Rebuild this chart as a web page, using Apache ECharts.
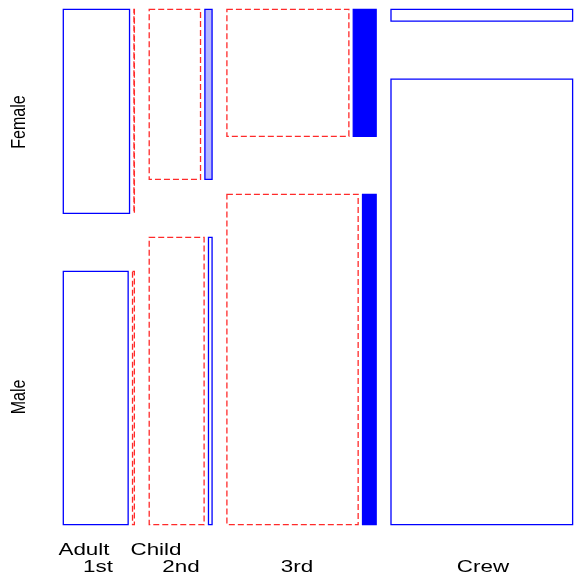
<!DOCTYPE html>
<html><head><meta charset="utf-8">
<script src="https://cdn.jsdelivr.net/npm/echarts@6/dist/echarts.min.js"></script>
<style>html,body{margin:0;padding:0;background:#fff}#c{width:577px;height:578px}</style>
</head><body><div id="c"></div>
<script>
// ---- data (Titanic: Class x Sex x Age counts) ----
const classes = ['1st', '2nd', '3rd', 'Crew'];
const sexes = ['Female', 'Male'];
const ages = ['Adult', 'Child'];
const femaleAdult = [144, 93, 165, 23];
const femaleChild = [1, 13, 31, 0];
const maleAdult = [175, 168, 462, 862];
const maleChild = [5, 11, 48, 0];
// residual shading level:
// -1 negative (dashed red), 1 positive (blue outline), 2 positive (light fill), 3 positive (full fill)
const shadeFemaleAdult = [1, -1, -1, 1];
const shadeFemaleChild = [-1, 2, 3, 1];
const shadeMaleAdult = [1, -1, -1, 1];
const shadeMaleChild = [-1, 1, 3, 1];

// ---- layout constants (axis units) ----
const CLASS_GAP = 14.9, AGE_GAP = 4.4, SEX_GAP = 58;
const X_SPAN = 516.2, Y_SPAN = 515.4;

const total = classes.map((c, i) => femaleAdult[i] + femaleChild[i] + maleAdult[i] + maleChild[i]);
const N = total.reduce((a, b) => a + b, 0);
const xAvail = X_SPAN - CLASS_GAP * (classes.length - 1) - AGE_GAP * classes.length;
const yAvail = Y_SPAN - SEX_GAP;

const cells = [];
let xc = 0;
classes.forEach((c, i) => {
  const cw = xAvail * total[i] / N + AGE_GAP;
  const fTot = femaleAdult[i] + femaleChild[i];
  const hF = yAvail * fTot / total[i];
  const rows = [
    [0, hF, femaleAdult[i], femaleChild[i], shadeFemaleAdult[i], shadeFemaleChild[i]],
    [hF + SEX_GAP, Y_SPAN, maleAdult[i], maleChild[i], shadeMaleAdult[i], shadeMaleChild[i]]
  ];
  rows.forEach(r => {
    const [y0, y1, A, C, sA, sC] = r;
    const inner = cw - AGE_GAP;
    const aw = inner * A / (A + C);
    if (A > 0) cells.push([xc, xc + aw, y0, y1, sA]);
    if (C > 0) cells.push([xc + aw + AGE_GAP, xc + cw, y0, y1, sC]);
  });
  xc += cw + CLASS_GAP;
});

const chart = echarts.init(document.getElementById('c'), null, {renderer: 'canvas'});
const FONT = '"Liberation Sans", Arial, Helvetica, sans-serif';
function txt(t, x, y, rot) {
  const o = {type: 'text', x: x, y: y, style: {text: t, fontFamily: FONT, fontSize: 16, fill: '#000', align: 'center', verticalAlign: 'middle'}};
  if (rot) { o.rotation = Math.PI / 2; o.scaleY = 1.3; } else { o.scaleX = 1.4; }
  return o;
}
chart.setOption({
  animation: false,
  backgroundColor: '#fff',
  grid: {left: 63.3, top: 9.3, width: X_SPAN, height: Y_SPAN},
  xAxis: {type: 'value', min: 0, max: X_SPAN, show: false},
  yAxis: {type: 'value', min: 0, max: Y_SPAN, inverse: true, show: false},
  series: [{
    type: 'custom',
    clip: false,
    data: cells,
    encode: {x: [0, 1], y: [2, 3]},
    renderItem: function (params, api) {
      const p0 = api.coord([api.value(0), api.value(2)]);
      const p1 = api.coord([api.value(1), api.value(3)]);
      const lvl = api.value(4);
      let fill = '#fff', stroke = '#0000ff', dash = null;
      if (lvl < 0) { stroke = '#ff2a2a'; dash = [6, 3]; }
      if (lvl === 2) fill = '#b8b8ff';
      if (lvl === 3) fill = '#0000ff';
      return {
        type: 'rect',
        shape: {x: p0[0], y: p0[1], width: p1[0] - p0[0], height: p1[1] - p0[1]},
        style: {fill: fill, stroke: stroke, lineWidth: 1.3, lineDash: dash}
      };
    }
  }],
  graphic: [
    txt('Adult', 84, 551),
    txt('Child', 156, 551),
    txt('1st', 98, 568),
    txt('2nd', 181, 568),
    txt('3rd', 297, 568),
    txt('Crew', 483, 568),
    txt('Female', 19, 122, true),
    txt('Male', 19, 397, true)
  ]
});
</script>
</body></html>
